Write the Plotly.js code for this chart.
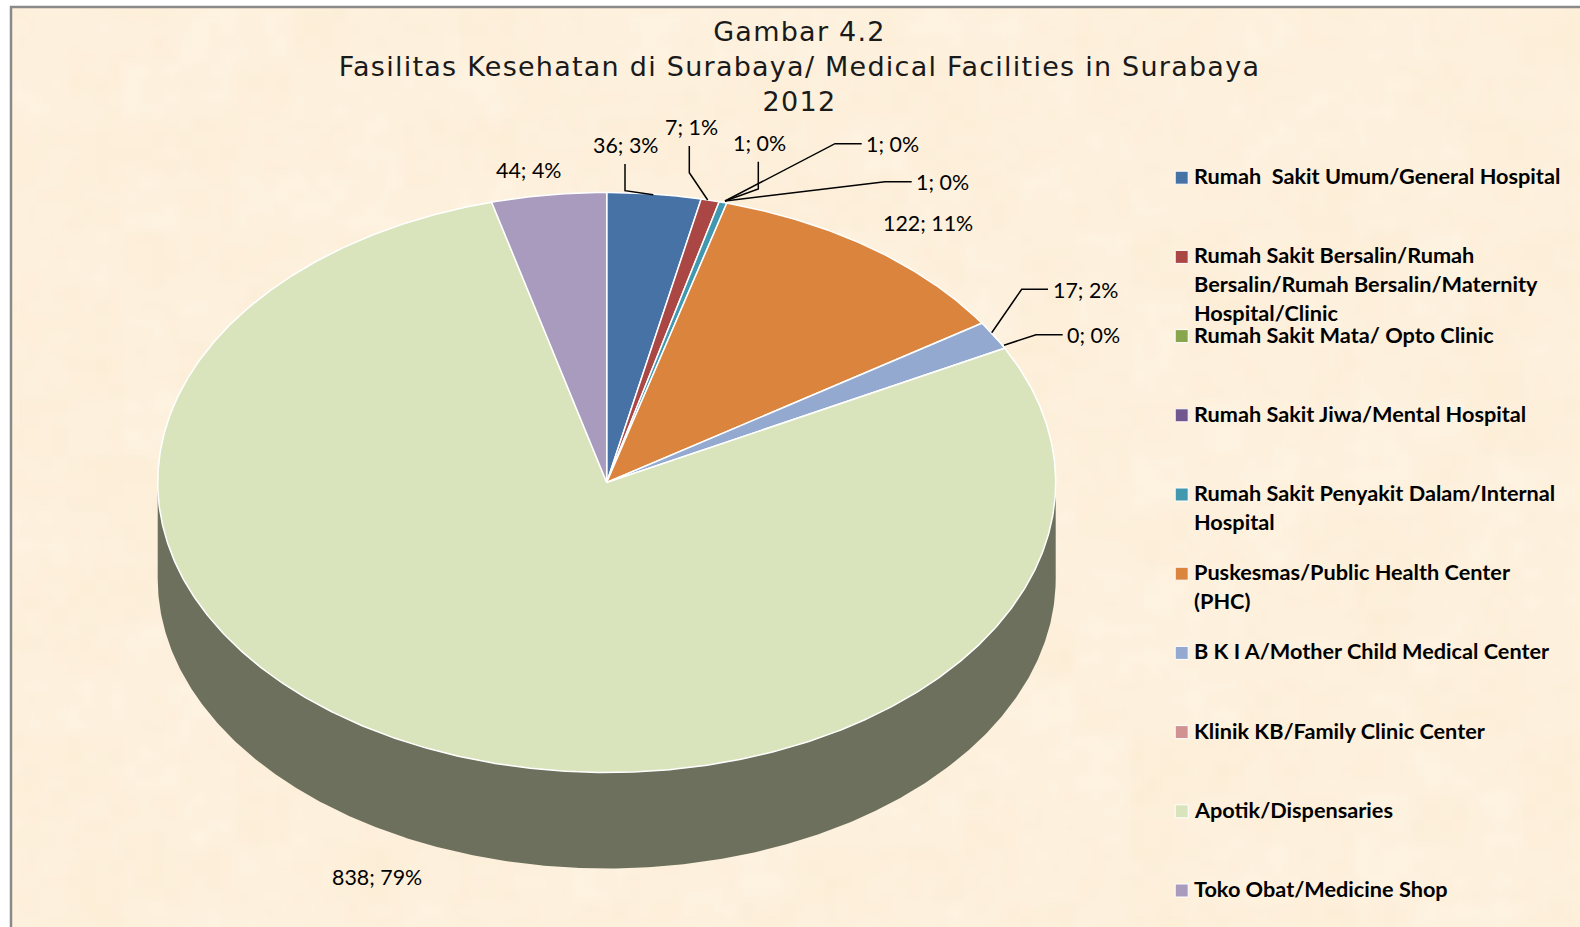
<!DOCTYPE html>
<html>
<head>
<meta charset="utf-8">
<script src="https://cdn.plot.ly/plotly-3.0.1.min.js"></script>
<style>html,body{margin:0;padding:0;background:#fff;overflow:hidden}#chart{width:1580px;height:927px}.gtitle{letter-spacing:1.25px}</style>
</head>
<body>
<div id="chart"></div>
<script>
// ---- chart data ----
const categories = ["Rumah  Sakit Umum/General Hospital","Rumah Sakit Bersalin/Rumah Bersalin/Rumah Bersalin/Maternity Hospital/Clinic","Rumah Sakit Mata/ Opto Clinic","Rumah Sakit Jiwa/Mental Hospital","Rumah Sakit Penyakit Dalam/Internal Hospital","Puskesmas/Public Health Center (PHC)","B K I A/Mother Child Medical Center","Klinik KB/Family Clinic Center","Apotik/Dispensaries","Toko Obat/Medicine Shop"];
const values = [36, 7, 1, 1, 1, 122, 17, 0, 838, 44];
const percents = [3, 1, 0, 0, 0, 11, 2, 0, 79, 4];
const legendColors = ["#4672a6","#aa4643","#89a54e","#71588f","#4198af","#db843d","#93a9cf","#d19392","#d9e4bd","#a99bbd"];
// In the picture the three tiny slices read as a single teal wedge.
const sliceColors = ["#4672a6","#aa4643","#4198af","#4198af","#4198af","#db843d","#93a9cf","#d19392","#d9e4bd","#a99bbd"];
const legendLines = [["Rumah  Sakit Umum/General Hospital"],["Rumah Sakit Bersalin/Rumah","Bersalin/Rumah Bersalin/Maternity","Hospital/Clinic"],["Rumah Sakit Mata/ Opto Clinic"],["Rumah Sakit Jiwa/Mental Hospital"],["Rumah Sakit Penyakit Dalam/Internal","Hospital"],["Puskesmas/Public Health Center","(PHC)"],["B K I A/Mother Child Medical Center"],["Klinik KB/Family Clinic Center"],["Apotik/Dispensaries"],["Toko Obat/Medicine Shop"]];
const titleText = "Gambar 4.2<br>Fasilitas Kesehatan di Surabaya/ Medical Facilities in Surabaya<br>2012";

// ---- layout placement ----
const cx = 606.7, cy = 482.5, rx = 449, ry = 290, depth = 96;
const labelPos = [[625,145],[691,127],[759.5,143],[892.5,144],[942.5,182],[927.5,222.5],[1085,290],[1093,335],[377,877],[528.5,170]];
const leaders = [
  {idx:0, x:[625,625,653.3], y:[164,190.7,194.7]},
  {idx:1, x:[689.3,689.3,707.7], y:[146,172.7,200]},
  {idx:2, x:[758.3,758.3,725], y:[161.7,189,201]},
  {idx:3, x:[861.7,835,725], y:[143.7,143.7,201]},
  {idx:4, x:[911.7,885,725], y:[181.7,181.7,201]},
  {idx:6, x:[1048,1021.7,991.7], y:[289.3,289.3,332.7]},
  {idx:7, x:[1062.7,1036,1004], y:[334.7,334.7,345.3]}
];
const legendY0 = 177.7, legendStep = 79.2, legendMarkX = 1181.7, legendTextX = 1194, legendLinePitch = 29;

// ---- paper texture ----
function paperTexture(w, h) {
  const c = document.createElement('canvas'); c.width = w; c.height = h;
  const g = c.getContext('2d');
  g.fillStyle = '#fdf0db'; g.fillRect(0, 0, w, h);
  const hash = (a, b) => { const s = Math.sin(a * 127.1 + b * 311.7) * 43758.5453; return s - Math.floor(s); };
  const cell = 14;
  for (let j = 0; j * cell < h; j++) for (let i = 0; i * cell < w; i++) {
    const n = hash(i, j), m = hash(Math.floor(i / 4) + 9, Math.floor(j / 4) + 3);
    const d = (n - 0.5) * 2.5 + (m - 0.5) * 3;
    const r = Math.round(253 + d * 0.3), gg = Math.round(240 + d), b = Math.round(220 + d * 2.2);
    g.fillStyle = `rgb(${r},${gg},${b})`;
    g.fillRect(i * cell, j * cell, cell, cell);
  }
  const c2 = document.createElement('canvas'); c2.width = w; c2.height = h;
  const g2 = c2.getContext('2d');
  g2.fillStyle = '#fdf0db'; g2.fillRect(0, 0, w, h);
  g2.filter = 'blur(5px)'; g2.drawImage(c, 0, 0);
  return c2.toDataURL('image/png');
}

// ---- wedges through the axes ----
const total = values.reduce((a, b) => a + b, 0);
const px = t => cx + rx * Math.sin(t);
const py = t => cy - ry * Math.cos(t);
function arc(a, b) {
  const n = Math.max(2, Math.ceil(Math.abs(b - a) / 0.008));
  const xs = [], ys = [];
  for (let k = 0; k <= n; k++) { const t = a + (b - a) * k / n; xs.push(px(t)); ys.push(py(t)); }
  return [xs, ys];
}
const traces = [];
// extruded wall of the pie (front half only)
const [wx, wy] = arc(Math.PI / 2, 3 * Math.PI / 2);
traces.push({type:'scatter', mode:'lines', x: wx.concat(wx.slice().reverse()), y: wy.concat(wy.slice().reverse().map(v => v + depth)),
  fill:'toself', fillcolor:'#6c705c', line:{width:0}, hoverinfo:'skip', showlegend:false});

// merge neighbouring slices that share a colour, then draw each wedge
let acc = 0, groups = [];
values.forEach((v, i) => {
  if (v === 0) return;
  const a = acc / total * 2 * Math.PI; acc += v; const b = acc / total * 2 * Math.PI;
  const last = groups[groups.length - 1];
  if (last && last.color === sliceColors[i]) { last.b = b; last.names.push(categories[i] + ': ' + v); }
  else groups.push({a, b, color: sliceColors[i], names: [categories[i] + ': ' + v]});
});
groups.forEach(g => {
  const [ax, ay] = arc(g.a, g.b);
  traces.push({type:'scatter', mode:'lines', x:[cx].concat(ax,[cx]), y:[cy].concat(ay,[cy]), fill:'toself', fillcolor:g.color,
    line:{color:'#ffffff', width:1.5}, hoveron:'fills', text:g.names.join('<br>'), hoverinfo:'text', showlegend:false});
});

// leader lines
leaders.forEach(l => traces.push({type:'scatter', mode:'lines', x:l.x, y:l.y, line:{color:'#000', width:1.5}, hoverinfo:'skip', showlegend:false}));

// legend markers
traces.push({type:'scatter', mode:'markers', x:categories.map(() => legendMarkX), y:categories.map((_, i) => legendY0 + i * legendStep),
  marker:{symbol:'square', size:13, color:legendColors, line:{color:'#ffffff', width:1}}, text:categories, hoverinfo:'text', showlegend:false});

// annotations: data labels and legend text
const annotations = [];
values.forEach((v, i) => annotations.push({xref:'x', yref:'y', x:labelPos[i][0], y:labelPos[i][1], text:`${v}; ${percents[i]}%`, showarrow:false,
  xanchor:'center', yanchor:'middle', font:{family:'Lato, sans-serif', size:21.4, color:'#000'}}));
legendLines.forEach((lines, i) => lines.forEach((t, k) => annotations.push({xref:'x', yref:'y', x:legendTextX, y:legendY0 - 1.6 + i * legendStep + k * legendLinePitch,
  text:t.replace(/  /g, '&nbsp; '), showarrow:false, xanchor:'left', yanchor:'middle', xshift:-2, font:{family:'Lato, sans-serif', size:21.7, color:'#000', weight:700}})));

const layout = {
  width:1580, height:927, margin:{l:0,r:0,t:0,b:0,pad:0}, paper_bgcolor:'#ffffff', plot_bgcolor:'rgba(0,0,0,0)', showlegend:false,
  title:{text:titleText, x:0.506, xanchor:'center', y:0.9557, yanchor:'top', font:{family:'"DejaVu Sans", sans-serif', size:27, color:'#1a1a1a'}},
  xaxis:{range:[0,1580], visible:false, fixedrange:true},
  yaxis:{range:[927,0], visible:false, fixedrange:true},
  images:[{source:paperTexture(1570, 921), xref:'x', yref:'y', x:11, y:7, sizex:1570, sizey:921, sizing:'stretch', layer:'below', xanchor:'left', yanchor:'top'}],
  shapes:[{type:'rect', xref:'x', yref:'y', x0:11, y0:7, x1:1600, y1:950, line:{color:'#8a8a8a', width:2.5}, fillcolor:'rgba(0,0,0,0)', layer:'above'}],
  annotations
};
Plotly.newPlot('chart', traces, layout, {displayModeBar:false, responsive:false});
</script>
</body>
</html>
